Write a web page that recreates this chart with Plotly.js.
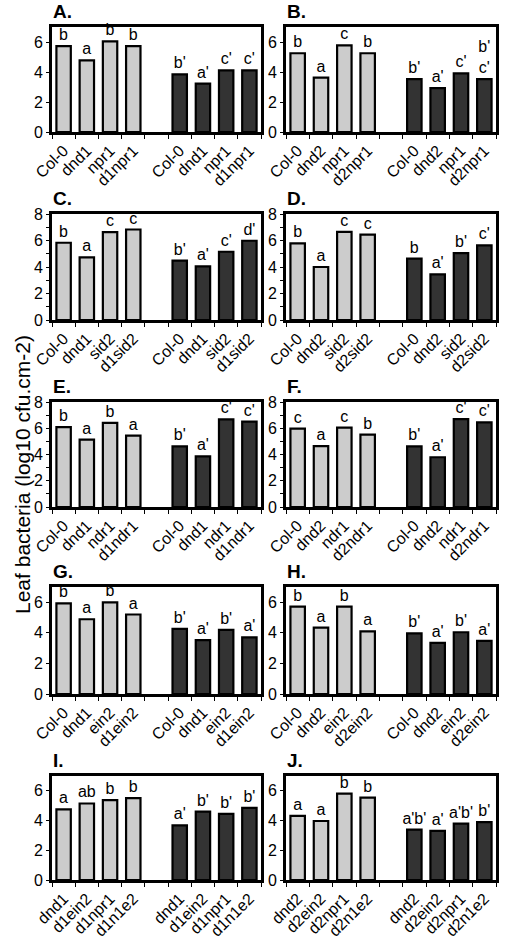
<!DOCTYPE html>
<html>
<head>
<meta charset="utf-8">
<script src="https://cdn.plot.ly/plotly-3.0.1.min.js"></script>
<style>html,body{margin:0;padding:0;background:#fff;}#chart{width:509px;height:950px;}</style>
</head>
<body>
<div id="chart"></div>
<script>
// ---- Data (log10 cfu.cm-2) ----
const panelNames = ["A.", "B.", "C.", "D.", "E.", "F.", "G.", "H.", "I.", "J."];

const labelsA = ["Col-0", "dnd1", "npr1", "d1npr1", "Col-0", "dnd1", "npr1", "d1npr1"];
const valuesA = [5.73, 4.78, 6.04, 5.73, 3.84, 3.22, 4.11, 4.11];
const lettersA = ["b", "a", "b", "b", "b'", "a'", "c'", "c'"];

const labelsB = ["Col-0", "dnd2", "npr1", "d2npr1", "Col-0", "dnd2", "npr1", "d2npr1"];
const valuesB = [5.25, 3.63, 5.78, 5.25, 3.52, 2.92, 3.91, 3.52];
const lettersB = ["b", "a", "c", "b", "b'", "a'", "c'", "b'<br>c'"];

const labelsC = ["Col-0", "dnd1", "sid2", "d1sid2", "Col-0", "dnd1", "sid2", "d1sid2"];
const valuesC = [5.83, 4.73, 6.63, 6.83, 4.48, 4.05, 5.15, 5.98];
const lettersC = ["b", "a", "c", "c", "b'", "a'", "c'", "d'"];

const labelsD = ["Col-0", "dnd2", "sid2", "d2sid2", "Col-0", "dnd2", "sid2", "d2sid2"];
const valuesD = [5.78, 4.0, 6.65, 6.45, 4.63, 3.45, 5.05, 5.63];
const lettersD = ["b", "a", "c", "c", "b", "a'", "b'", "c'"];

const labelsE = ["Col-0", "dnd1", "ndr1", "d1ndr1", "Col-0", "dnd1", "ndr1", "d1ndr1"];
const valuesE = [6.08, 5.13, 6.41, 5.44, 4.62, 3.85, 6.67, 6.51];
const lettersE = ["b", "a", "b", "a", "b'", "a'", "c'", "c'"];

const labelsF = ["Col-0", "dnd2", "ndr1", "d2ndr1", "Col-0", "dnd2", "ndr1", "d2ndr1"];
const valuesF = [5.97, 4.64, 6.05, 5.51, 4.62, 3.79, 6.69, 6.44];
const lettersF = ["c", "a", "c", "b", "b'", "a'", "c'", "c'"];

const labelsG = ["Col-0", "dnd1", "ein2", "d1ein2", "Col-0", "dnd1", "ein2", "d1ein2"];
const valuesG = [5.93, 4.89, 6.0, 5.2, 4.26, 3.52, 4.2, 3.7];
const lettersG = ["b", "a", "b", "a", "b'", "a'", "b'", "a'"];

const labelsH = ["Col-0", "dnd2", "ein2", "d2ein2", "Col-0", "dnd2", "ein2", "d2ein2"];
const valuesH = [5.72, 4.34, 5.72, 4.1, 3.97, 3.35, 4.04, 3.48];
const lettersH = ["b", "a", "b", "a", "b'", "a'", "b'", "a'"];

const labelsI = ["dnd1", "d1ein2", "d1npr1", "d1n1e2", "dnd1", "d1ein2", "d1npr1", "d1n1e2"];
const valuesI = [4.76, 5.15, 5.37, 5.51, 3.68, 4.6, 4.45, 4.85];
const lettersI = ["a", "ab", "b", "b", "a'", "b'", "b'", "b'"];

const labelsJ = ["dnd2", "d2ein2", "d2npr1", "d2n1e2", "dnd2", "d2ein2", "d2npr1", "d2n1e2"];
const valuesJ = [4.31, 3.97, 5.82, 5.55, 3.39, 3.3, 3.79, 3.9];
const lettersJ = ["a", "a", "b", "b", "a'b'", "a'", "a'b'", "b'"];

const yMax = [7, 7, 8, 8, 8, 8, 7, 7, 7, 7];

// ---- Layout helpers ----
const W = 509, H = 950;
const rowsPx = [[27, 132], [214, 320], [402, 507], [587, 694], [776, 880]];
const colsPx = [[52, 261], [286, 496]];
const FONT = "Liberation Sans, Arial, sans-serif";

const panels = [
  [labelsA, valuesA, lettersA], [labelsB, valuesB, lettersB],
  [labelsC, valuesC, lettersC], [labelsD, valuesD, lettersD],
  [labelsE, valuesE, lettersE], [labelsF, valuesF, lettersF],
  [labelsG, valuesG, lettersG], [labelsH, valuesH, lettersH],
  [labelsI, valuesI, lettersI], [labelsJ, valuesJ, lettersJ]
];

const traces = [];
const layout = {
  width: W, height: H,
  margin: {l: 0, r: 0, t: 0, b: 0},
  paper_bgcolor: "#ffffff", plot_bgcolor: "#ffffff",
  showlegend: false,
  font: {family: FONT, color: "#000"},
  annotations: []
};

panels.forEach((p, k) => {
  const [labels, vals, lets] = p;
  const row = Math.floor(k / 2), col = k % 2;
  const suf = k === 0 ? "" : String(k + 1);
  const xs = labels.map((_, i) => (i < 4 ? i : i + 1));
  const light = [0, 1, 2, 3], dark = [4, 5, 6, 7];
  [[light, "#cccccc"], [dark, "#333333"]].forEach(([idx, color]) => {
    traces.push({
      type: "bar",
      x: idx.map(i => xs[i]),
      y: idx.map(i => vals[i]),
      text: idx.map(i => lets[i]),
      textposition: "outside",
      constraintext: "none",
      cliponaxis: false,
      textfont: {family: FONT, size: 16, color: "#000"},
      marker: {color: color, line: {color: "#000", width: 2.2}},
      width: 0.62,
      hoverinfo: "none",
      xaxis: "x" + suf, yaxis: "y" + suf
    });
  });
  const cx = colsPx[col], ry = rowsPx[row];
  layout["xaxis" + suf] = {
    domain: [cx[0] / W, cx[1] / W],
    anchor: "y" + suf,
    range: [-0.5, 8.5],
    tickmode: "array",
    tickvals: xs,
    ticktext: labels,
    tickangle: -45,
    ticks: "",
    tickfont: {family: FONT, size: 16, color: "#000"},
    showline: true, linecolor: "#000", linewidth: 3, mirror: true,
    showgrid: false, zeroline: false, fixedrange: true,
    minor: {tickmode: "linear", tick0: 0.5, dtick: 1, ticks: "outside", ticklen: 4, tickwidth: 1, tickcolor: "#000", showgrid: false}
  };
  const ya = {
    domain: [1 - ry[1] / H, 1 - ry[0] / H],
    anchor: "x" + suf,
    range: [0, yMax[k]],
    dtick: 2, tick0: 0,
    ticks: "outside", ticklen: 3, tickwidth: 1, tickcolor: "#000",
    tickfont: {family: FONT, size: 16, color: "#000"},
    showline: true, linecolor: "#000", linewidth: 3, mirror: true,
    showgrid: false, zeroline: false, fixedrange: true
  };
  if (yMax[k] === 8) {
    ya.minor = {dtick: 1, ticks: "outside", ticklen: 3, tickwidth: 1, tickcolor: "#000", showgrid: false};
  }
  layout["yaxis" + suf] = ya;
  layout.annotations.push({
    xref: "paper", yref: "paper",
    x: (cx[0] - 1) / W, y: 1 - (ry[0] - 3) / H,
    xanchor: "left", yanchor: "bottom",
    text: "<b>" + panelNames[k] + "</b>",
    showarrow: false,
    font: {family: FONT, size: 19, color: "#000"}
  });
});

layout.annotations.push({
  xref: "paper", yref: "paper",
  x: 22 / W, y: 1 - 475 / H,
  xanchor: "center", yanchor: "middle",
  text: "Leaf bacteria (log10 cfu.cm-2)",
  textangle: -90,
  showarrow: false,
  font: {family: FONT, size: 21, color: "#000"}
});

Plotly.newPlot("chart", traces, layout, {staticPlot: true, displayModeBar: false});
</script>
</body>
</html>
